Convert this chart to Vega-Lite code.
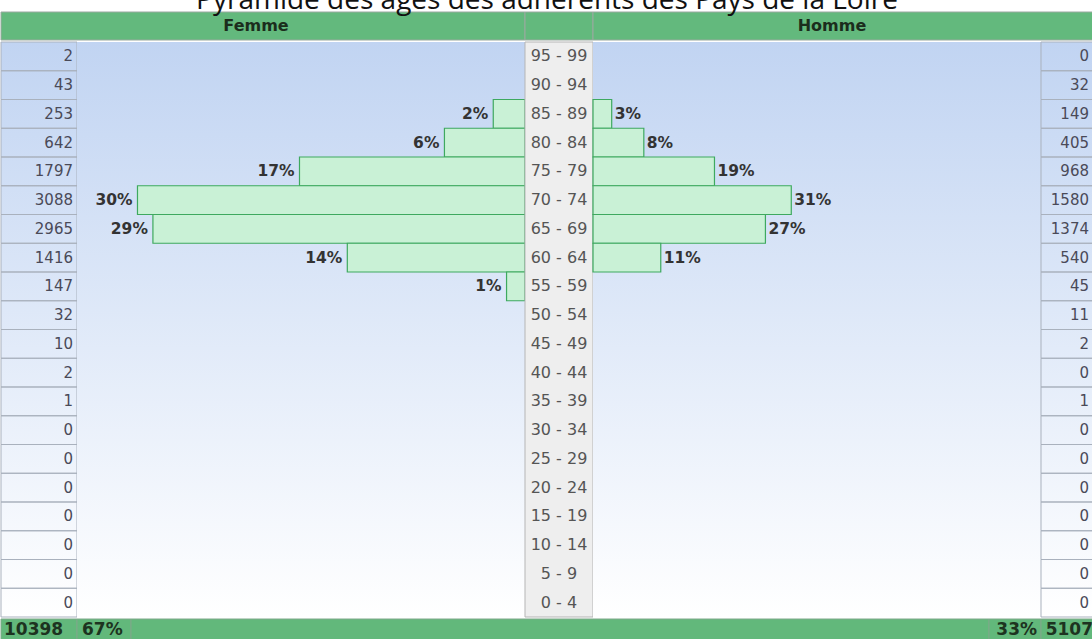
{
  "$schema": "https://vega.github.io/schema/vega-lite/v6.json",
  "padding": {"top": -14, "left": 0, "right": 0, "bottom": 0},
  "autosize": {"type": "pad"},
  "title": {"text": "Pyramide des âges des adhérents des Pays de la Loire", "font": "Open Sans", "fontSize": 28, "fontWeight": "normal", "color": "#111111", "offset": -3, "anchor": "middle"},
  "config": {"view": {"stroke": null}, "concat": {"spacing": 0}, "text": {"font": "DejaVu Sans"}},
  "spacing": 0,
  "datasets": {
    "rows": [
      {"age": "95 - 99", "femme": 2, "homme": 0, "pctF": null, "pctH": null},
      {"age": "90 - 94", "femme": 43, "homme": 32, "pctF": null, "pctH": null},
      {"age": "85 - 89", "femme": 253, "homme": 149, "pctF": "2%", "pctH": "3%"},
      {"age": "80 - 84", "femme": 642, "homme": 405, "pctF": "6%", "pctH": "8%"},
      {"age": "75 - 79", "femme": 1797, "homme": 968, "pctF": "17%", "pctH": "19%"},
      {"age": "70 - 74", "femme": 3088, "homme": 1580, "pctF": "30%", "pctH": "31%"},
      {"age": "65 - 69", "femme": 2965, "homme": 1374, "pctF": "29%", "pctH": "27%"},
      {"age": "60 - 64", "femme": 1416, "homme": 540, "pctF": "14%", "pctH": "11%"},
      {"age": "55 - 59", "femme": 147, "homme": 45, "pctF": "1%", "pctH": null},
      {"age": "50 - 54", "femme": 32, "homme": 11, "pctF": null, "pctH": null},
      {"age": "45 - 49", "femme": 10, "homme": 2, "pctF": null, "pctH": null},
      {"age": "40 - 44", "femme": 2, "homme": 0, "pctF": null, "pctH": null},
      {"age": "35 - 39", "femme": 1, "homme": 1, "pctF": null, "pctH": null},
      {"age": "30 - 34", "femme": 0, "homme": 0, "pctF": null, "pctH": null},
      {"age": "25 - 29", "femme": 0, "homme": 0, "pctF": null, "pctH": null},
      {"age": "20 - 24", "femme": 0, "homme": 0, "pctF": null, "pctH": null},
      {"age": "15 - 19", "femme": 0, "homme": 0, "pctF": null, "pctH": null},
      {"age": "10 - 14", "femme": 0, "homme": 0, "pctF": null, "pctH": null},
      {"age": "5 - 9", "femme": 0, "homme": 0, "pctF": null, "pctH": null},
      {"age": "0 - 4", "femme": 0, "homme": 0, "pctF": null, "pctH": null}
    ],
    "totals": [
      {"side": "Femme", "count": 10398, "pct": "67%"},
      {"side": "Homme", "count": 5107, "pct": "33%"}
    ]
  },
  "vconcat": [
    {
      "spacing": 0,
      "bounds": "flush",
      "hconcat": [
        {
          "width": 524, "height": 28,
          "data": {"name": "totals"},
          "transform": [{"filter": "datum.side == 'Femme'"}],
          "layer": [
            {"mark": {"type": "rect", "fill": "#63b97d", "stroke": "#9aa9a0", "strokeWidth": 1}, "encoding": {}},
            {"mark": {"type": "text", "fontWeight": "bold", "fontSize": 16, "color": "#1b2d1c", "dx": -7}, "encoding": {"text": {"field": "side"}}}
          ]
        },
        {
          "width": 68, "height": 28,
          "data": {"name": "totals"},
          "transform": [{"filter": "datum.side == 'Femme'"}],
          "layer": [
            {"mark": {"type": "rect", "fill": "#63b97d", "stroke": "#9aa9a0", "strokeWidth": 1}, "encoding": {}}
          ]
        },
        {
          "width": 500, "height": 28,
          "data": {"name": "totals"},
          "transform": [{"filter": "datum.side == 'Homme'"}],
          "layer": [
            {"mark": {"type": "rect", "fill": "#63b97d", "stroke": "#9aa9a0", "strokeWidth": 1}, "encoding": {}},
            {"mark": {"type": "text", "fontWeight": "bold", "fontSize": 16, "color": "#1b2d1c", "dx": -11}, "encoding": {"text": {"field": "side"}}}
          ]
        }
      ]
    },
    {
      "spacing": 0,
      "bounds": "flush",
      "hconcat": [
        {
          "width": 76, "height": 575,
          "layer": [
            {"data": {"name": "totals"}, "transform": [{"filter": "datum.side == 'Femme'"}],
             "mark": {"type": "rect", "fill": {"gradient": "linear", "x1": 0, "y1": 0, "x2": 0, "y2": 1, "stops": [{"offset": 0, "color": "#c1d4f2"}, {"offset": 1, "color": "#ffffff"}]}}, "encoding": {}},
            {"data": {"name": "rows"},
             "mark": {"type": "rect", "fill": "transparent", "stroke": "#a9b1bd", "strokeWidth": 1},
             "encoding": {"y": {"field": "age", "type": "nominal", "sort": null, "axis": null, "scale": {"paddingInner": 0, "paddingOuter": 0}}}},
            {"data": {"name": "rows"},
             "mark": {"type": "text", "align": "right", "fontSize": 15, "color": "#4a4a58", "dx": -4},
             "encoding": {"y": {"field": "age", "type": "nominal", "sort": null, "axis": null, "scale": {"paddingInner": 0, "paddingOuter": 0}}, "x": {"value": "width"}, "text": {"field": "femme", "type": "quantitative"}}}
          ]
        },
        {
          "width": 448, "height": 575,
          "layer": [
            {"data": {"name": "totals"}, "transform": [{"filter": "datum.side == 'Femme'"}],
             "mark": {"type": "rect", "fill": {"gradient": "linear", "x1": 0, "y1": 0, "x2": 0, "y2": 1, "stops": [{"offset": 0, "color": "#c1d4f2"}, {"offset": 1, "color": "#ffffff"}]}}, "encoding": {}},
            {"data": {"name": "rows"}, "transform": [{"filter": "datum.pctF != null"}],
             "mark": {"type": "bar", "fill": "#c9f1d6", "stroke": "#3ea95f", "strokeWidth": 1.2},
             "encoding": {"y": {"field": "age", "type": "nominal", "sort": null, "axis": null, "scale": {"domain": ["95 - 99","90 - 94","85 - 89","80 - 84","75 - 79","70 - 74","65 - 69","60 - 64","55 - 59","50 - 54","45 - 49","40 - 44","35 - 39","30 - 34","25 - 29","20 - 24","15 - 19","10 - 14","5 - 9","0 - 4"], "paddingInner": 0, "paddingOuter": 0}},
                          "x": {"field": "femme", "type": "quantitative", "axis": null, "scale": {"domain": [0, 3570], "reverse": true, "nice": false}}}},
            {"data": {"name": "rows"}, "transform": [{"filter": "datum.pctF != null"}],
             "mark": {"type": "text", "align": "right", "fontWeight": "bold", "fontSize": 15.5, "color": "#333333", "dx": -5},
             "encoding": {"y": {"field": "age", "type": "nominal", "sort": null, "axis": null},
                          "x": {"field": "femme", "type": "quantitative", "axis": null},
                          "text": {"field": "pctF"}}}
          ]
        },
        {
          "width": 68, "height": 575,
          "layer": [
            {"data": {"name": "totals"}, "transform": [{"filter": "datum.side == 'Femme'"}],
             "mark": {"type": "rect", "fill": "#eeeeee", "stroke": "#b5b5b5", "strokeWidth": 1}, "encoding": {}},
            {"data": {"name": "rows"},
             "mark": {"type": "text", "fontSize": 16, "color": "#555555"},
             "encoding": {"y": {"field": "age", "type": "nominal", "sort": null, "axis": null, "scale": {"paddingInner": 0, "paddingOuter": 0}}, "text": {"field": "age"}}}
          ]
        },
        {
          "width": 448, "height": 575,
          "layer": [
            {"data": {"name": "totals"}, "transform": [{"filter": "datum.side == 'Femme'"}],
             "mark": {"type": "rect", "fill": {"gradient": "linear", "x1": 0, "y1": 0, "x2": 0, "y2": 1, "stops": [{"offset": 0, "color": "#c1d4f2"}, {"offset": 1, "color": "#ffffff"}]}}, "encoding": {}},
            {"data": {"name": "rows"}, "transform": [{"filter": "datum.pctH != null"}],
             "mark": {"type": "bar", "fill": "#c9f1d6", "stroke": "#3ea95f", "strokeWidth": 1.2},
             "encoding": {"y": {"field": "age", "type": "nominal", "sort": null, "axis": null, "scale": {"domain": ["95 - 99","90 - 94","85 - 89","80 - 84","75 - 79","70 - 74","65 - 69","60 - 64","55 - 59","50 - 54","45 - 49","40 - 44","35 - 39","30 - 34","25 - 29","20 - 24","15 - 19","10 - 14","5 - 9","0 - 4"], "paddingInner": 0, "paddingOuter": 0}},
                          "x": {"field": "homme", "type": "quantitative", "axis": null, "scale": {"domain": [0, 3570], "nice": false}}}},
            {"data": {"name": "rows"}, "transform": [{"filter": "datum.pctH != null"}],
             "mark": {"type": "text", "align": "left", "fontWeight": "bold", "fontSize": 15.5, "color": "#333333", "dx": 3},
             "encoding": {"y": {"field": "age", "type": "nominal", "sort": null, "axis": null},
                          "x": {"field": "homme", "type": "quantitative", "axis": null},
                          "text": {"field": "pctH"}}}
          ]
        },
        {
          "width": 52, "height": 575,
          "layer": [
            {"data": {"name": "totals"}, "transform": [{"filter": "datum.side == 'Femme'"}],
             "mark": {"type": "rect", "fill": {"gradient": "linear", "x1": 0, "y1": 0, "x2": 0, "y2": 1, "stops": [{"offset": 0, "color": "#c1d4f2"}, {"offset": 1, "color": "#ffffff"}]}}, "encoding": {}},
            {"data": {"name": "rows"},
             "mark": {"type": "rect", "fill": "transparent", "stroke": "#a9b1bd", "strokeWidth": 1},
             "encoding": {"y": {"field": "age", "type": "nominal", "sort": null, "axis": null, "scale": {"paddingInner": 0, "paddingOuter": 0}}}},
            {"data": {"name": "rows"},
             "mark": {"type": "text", "align": "right", "fontSize": 15, "color": "#4a4a58", "dx": -4},
             "encoding": {"y": {"field": "age", "type": "nominal", "sort": null, "axis": null, "scale": {"paddingInner": 0, "paddingOuter": 0}}, "x": {"value": "width"}, "text": {"field": "homme", "type": "quantitative"}}}
          ]
        }
      ]
    },
    {
      "spacing": 0,
      "bounds": "flush",
      "hconcat": [
        {
          "width": 76, "height": 22,
          "data": {"name": "totals"}, "transform": [{"filter": "datum.side == 'Femme'"}],
          "layer": [
            {"mark": {"type": "rect", "fill": "#62b87b", "stroke": "#7fa88a", "strokeWidth": 1}, "encoding": {}},
            {"mark": {"type": "text", "align": "left", "fontWeight": "bold", "fontSize": 17, "color": "#1d3320", "dx": 3}, "encoding": {"x": {"value": 0}, "text": {"field": "count", "type": "quantitative"}}}
          ]
        },
        {
          "width": 54, "height": 22,
          "data": {"name": "totals"}, "transform": [{"filter": "datum.side == 'Femme'"}],
          "layer": [
            {"mark": {"type": "rect", "fill": "#62b87b", "stroke": "#7fa88a", "strokeWidth": 1}, "encoding": {}},
            {"mark": {"type": "text", "align": "left", "fontWeight": "bold", "fontSize": 17, "color": "#1d3320", "dx": 5}, "encoding": {"x": {"value": 0}, "text": {"field": "pct"}}}
          ]
        },
        {
          "width": 858, "height": 22,
          "data": {"name": "totals"}, "transform": [{"filter": "datum.side == 'Femme'"}],
          "layer": [
            {"mark": {"type": "rect", "fill": "#62b87b", "stroke": "#7fa88a", "strokeWidth": 1}, "encoding": {}}
          ]
        },
        {
          "width": 52, "height": 22,
          "data": {"name": "totals"}, "transform": [{"filter": "datum.side == 'Homme'"}],
          "layer": [
            {"mark": {"type": "rect", "fill": "#62b87b", "stroke": "#7fa88a", "strokeWidth": 1}, "encoding": {}},
            {"mark": {"type": "text", "align": "right", "fontWeight": "bold", "fontSize": 17, "color": "#1d3320", "dx": -4}, "encoding": {"x": {"value": "width"}, "text": {"field": "pct"}}}
          ]
        },
        {
          "width": 52, "height": 22,
          "data": {"name": "totals"}, "transform": [{"filter": "datum.side == 'Homme'"}],
          "layer": [
            {"mark": {"type": "rect", "fill": "#62b87b", "stroke": "#7fa88a", "strokeWidth": 1}, "encoding": {}},
            {"mark": {"type": "text", "align": "right", "fontWeight": "bold", "fontSize": 17, "color": "#1d3320", "dx": 0}, "encoding": {"x": {"value": "width"}, "text": {"field": "count", "type": "quantitative"}}}
          ]
        }
      ]
    }
  ]
}
